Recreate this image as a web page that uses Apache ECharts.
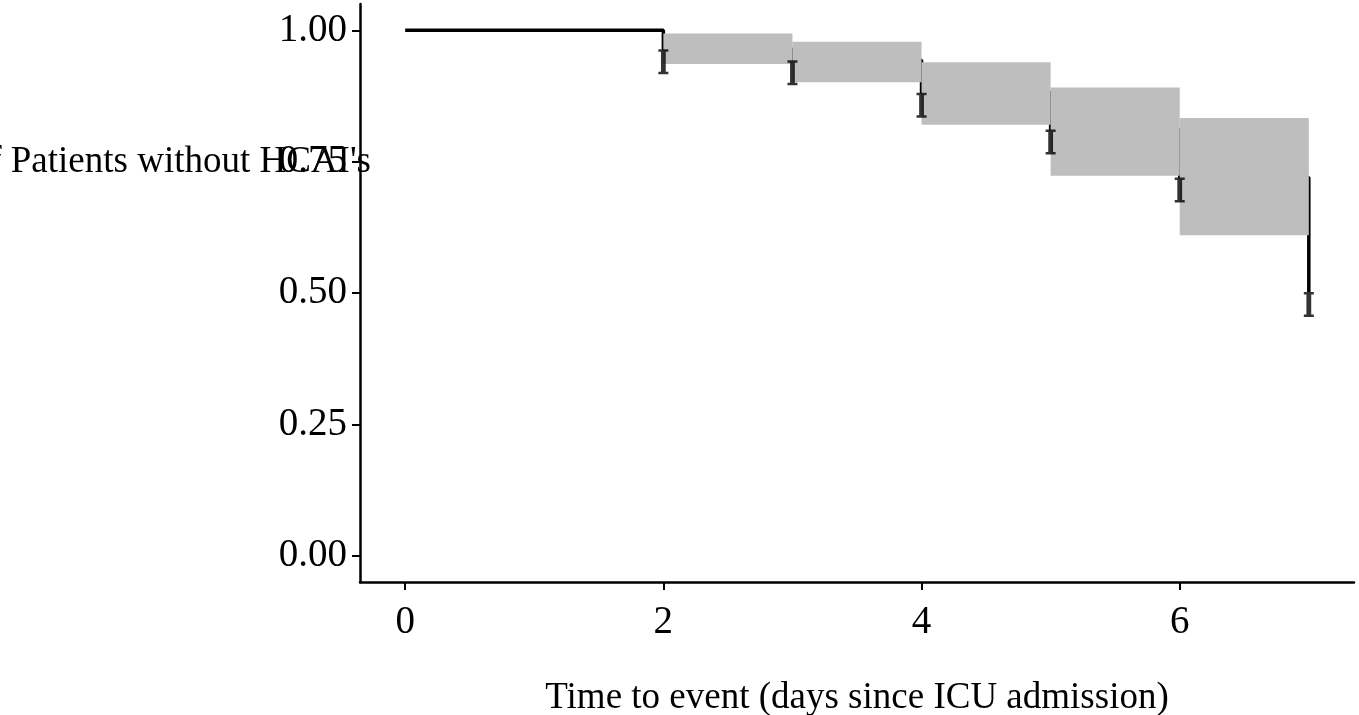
<!DOCTYPE html>
<html>
<head>
<meta charset="utf-8">
<script src="https://cdn.jsdelivr.net/npm/echarts@6/dist/echarts.min.js"></script>
<style>
  html, body { margin: 0; padding: 0; background: #fff; }
  #chart { width: 1359px; height: 715px; }
</style>
</head>
<body>
<div id="chart"></div>
<script>
// Kaplan-Meier estimate
const times = [0, 2, 3, 4, 5, 6, 7];
const survival = [1.0, 0.964, 0.943, 0.881, 0.811, 0.720, 0.502];

// confidence band, one step per interval
const bandStart = [2, 3, 4, 5, 6];
const bandEnd = [3, 4, 5, 6, 7];
const bandLower = [0.936, 0.901, 0.820, 0.723, 0.610];
const bandUpper = [0.994, 0.978, 0.939, 0.891, 0.833];

// censor marks
const censorTimes = [2, 3, 4, 5, 6, 7];
const censorValues = [0.964, 0.943, 0.881, 0.811, 0.720, 0.502];

const xTicks = [0, 2, 4, 6];
const yTicks = [0, 0.25, 0.5, 0.75, 1];

const font = "'Liberation Serif', 'Times New Roman', serif";
const titleSize = 37;
const tickSize = 39;

let myChart = echarts.init(document.getElementById('chart'));

// I shaped mark, top edge sits on the point
const iBeam = 'path://M0,0 H10 V2.5 H7.4 V22.5 H10 V25 H0 V22.5 H2.6 V2.5 H0 Z';

myChart.setOption({
    animation: false,
    backgroundColor: '#fff',
    grid: {left: 360, right: 5, top: 4, bottom: 133, outerBoundsMode: 'none', containLabel: false},
    graphic: [{
        type: 'text',
        x: 371,
        y: 162,
        style: {
            text: "Proportion of Patients without HCAI's",
            font: titleSize + 'px ' + font,
            fill: '#000',
            align: 'right',
            verticalAlign: 'middle'
        }
    }],
    xAxis: {
        type: 'value',
        min: -0.35,
        max: 7.35,
        name: 'Time to event (days since ICU admission)',
        nameLocation: 'middle',
        nameGap: 98,
        nameTextStyle: {fontFamily: font, fontSize: titleSize, color: '#000'},
        axisLine: {show: true, onZero: false, lineStyle: {color: '#000', width: 2.5}},
        axisTick: {show: true, customValues: xTicks, length: 8, lineStyle: {color: '#000', width: 2}},
        axisLabel: {customValues: xTicks, margin: 21, fontFamily: font, fontSize: tickSize, color: '#000'},
        splitLine: {show: false}
    },
    yAxis: {
        type: 'value',
        min: -0.05,
        max: 1.05,
        axisLine: {show: true, onZero: false, lineStyle: {color: '#000', width: 2.5}},
        axisTick: {show: true, customValues: yTicks, length: 8, lineStyle: {color: '#000', width: 2}},
        axisLabel: {
            customValues: yTicks,
            margin: 13,
            fontFamily: font,
            fontSize: tickSize,
            color: '#000',
            formatter: (v) => v.toFixed(2)
        },
        splitLine: {show: false}
    },
    series: [
        {
            type: 'line',
            step: 'end',
            symbol: 'none',
            z: 2,
            lineStyle: {color: '#000', width: 3.5},
            data: times.map((t, i) => [t, survival[i]])
        },
        {
            type: 'custom',
            z: 3,
            renderItem: (params, api) => {
                const p0 = api.coord([api.value(0), api.value(3)]);
                const p1 = api.coord([api.value(1), api.value(2)]);
                return {
                    type: 'rect',
                    shape: {x: p0[0], y: p0[1], width: p1[0] - p0[0], height: p1[1] - p0[1]},
                    style: {fill: '#bebebe'}
                };
            },
            encode: {x: [0, 1], y: [2, 3]},
            data: bandStart.map((s, i) => [s, bandEnd[i], bandLower[i], bandUpper[i]])
        },
        {
            type: 'scatter',
            z: 4,
            symbol: iBeam,
            symbolSize: [10, 25],
            symbolOffset: [0, '50%'],
            itemStyle: {color: '#000'},
            data: censorTimes.map((t, i) => [t, censorValues[i]])
        }
    ]
});
window.addEventListener('resize', () => myChart.resize());
</script>
</body>
</html>
